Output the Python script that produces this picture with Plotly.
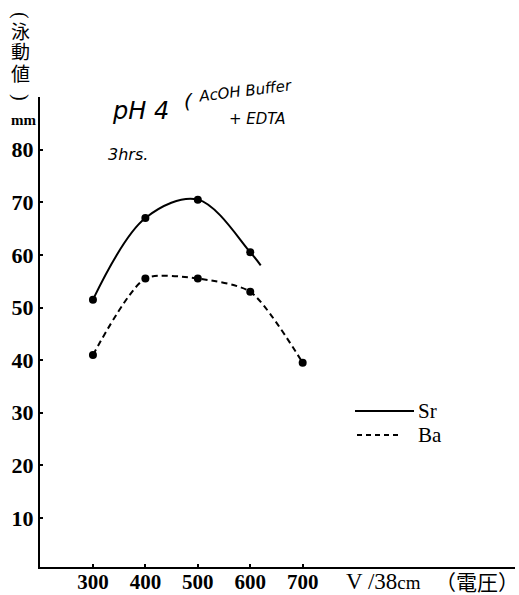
import plotly.graph_objects as go

# Migration distance (mm) against applied voltage (V / 38 cm)
sr_voltage = [300, 400, 500, 600]
sr_mm = [51.5, 67.0, 70.5, 60.5]
ba_voltage = [300, 400, 500, 600, 700]
ba_mm = [41.0, 55.5, 55.5, 53.0, 39.5]
# the drawn Sr curve runs on a little past its last measured point
sr_curve_end = (620, 58.0)

y_ticks = [10, 20, 30, 40, 50, 60, 70, 80]
x_ticks = [300, 400, 500, 600, 700]

W, H = 519, 595
L, R, T, B = 40, 4, 97, 28
PW, PH = W - L - R, H - T - B


def px(x):
    return (x - L) / PW


def py(y):
    return (H - B - y) / PH


fig = go.Figure()

# smooth curves
fig.add_trace(go.Scatter(
    x=sr_voltage + [sr_curve_end[0]], y=sr_mm + [sr_curve_end[1]],
    mode="lines", line=dict(color="black", width=2, shape="spline", smoothing=1.0),
    hoverinfo="skip", showlegend=False))
fig.add_trace(go.Scatter(
    x=ba_voltage, y=ba_mm,
    mode="lines", line=dict(color="black", width=2, shape="spline", smoothing=0.7, dash="6px,4px"),
    hoverinfo="skip", showlegend=False))
# measured points
fig.add_trace(go.Scatter(x=sr_voltage, y=sr_mm, mode="markers",
                         marker=dict(color="black", size=8), showlegend=False))
fig.add_trace(go.Scatter(x=ba_voltage, y=ba_mm, mode="markers",
                         marker=dict(color="black", size=8), showlegend=False))

serif = "Liberation Serif"
cjk = "Noto Sans CJK JP"
hand = "DejaVu Sans"


def label(text, x, y, font, xanchor="center", angle=0):
    return dict(text=text, x=px(x), y=py(y), xref="paper", yref="paper", showarrow=False,
                xanchor=xanchor, yanchor="middle", textangle=angle, font=font)


ann = []
# vertical axis title: parentheses turned a quarter, characters stacked
ann.append(label("(", 21, 15, dict(family=serif, size=20, color="black"), angle=90))
for ch, yy in zip(["泳", "動", "値"], [31, 51, 72]):
    ann.append(label(ch, 20, yy, dict(family=cjk, size=19, color="black")))
ann.append(label(")", 21, 97, dict(family=serif, size=20, color="black"), angle=90))
ann.append(label("mm", 23, 120, dict(family=serif, size=15, color="black", weight="bold")))
# horizontal axis unit
ann.append(label("V /38<span style='font-size:19px'>cm</span>", 383, 581,
                 dict(family=serif, size=23, color="black")))
ann.append(label("（電圧）", 477, 581, dict(family=cjk, size=21, color="black")))
# handwritten conditions
hw = dict(family=hand, color="black", style="italic", weight=300)
ann.append(label("pH 4", 140, 111, dict(hw, size=24)))
ann.append(label("(", 188, 101, dict(hw, size=20)))
ann.append(label("AcOH Buffer", 245, 91, dict(hw, size=15), angle=-7))
ann.append(label("+ EDTA", 257, 119, dict(hw, size=15)))
ann.append(label("3hrs.", 128, 155, dict(hw, size=16)))
# key
ann.append(label("Sr", 416, 411, dict(family=serif, size=21, color="black"), xanchor="left"))
ann.append(label("Ba", 416, 435, dict(family=serif, size=21, color="black"), xanchor="left"))

shapes = [
    dict(type="line", xref="paper", yref="paper", x0=px(355), x1=px(414), y0=py(411), y1=py(411),
         line=dict(color="black", width=2)),
    dict(type="line", xref="paper", yref="paper", x0=px(357), x1=px(402), y0=py(435), y1=py(435),
         line=dict(color="black", width=2, dash="5px,4px")),
]

fig.update_layout(
    width=W, height=H,
    margin=dict(l=L, r=R, t=T, b=B, autoexpand=False),
    paper_bgcolor="white", plot_bgcolor="white",
    annotations=ann, shapes=shapes,
    xaxis=dict(range=[199, 1105], tickvals=x_ticks, ticks="inside", ticklen=3, tickwidth=1.5,
               tickcolor="black", showline=True, linecolor="black", linewidth=2,
               showgrid=False, zeroline=False, automargin=False, ticklabelstandoff=-5,
               tickfont=dict(family=serif, size=21, color="black", weight="bold")),
    yaxis=dict(range=[0.7, 90], tickvals=y_ticks, ticks="inside", ticklen=3, tickwidth=1.5,
               tickcolor="black", showline=True, linecolor="black", linewidth=2,
               showgrid=False, zeroline=False, automargin=False,
               tickfont=dict(family=serif, size=22, color="black", weight="bold")),
)

fig.write_html("out.html")
